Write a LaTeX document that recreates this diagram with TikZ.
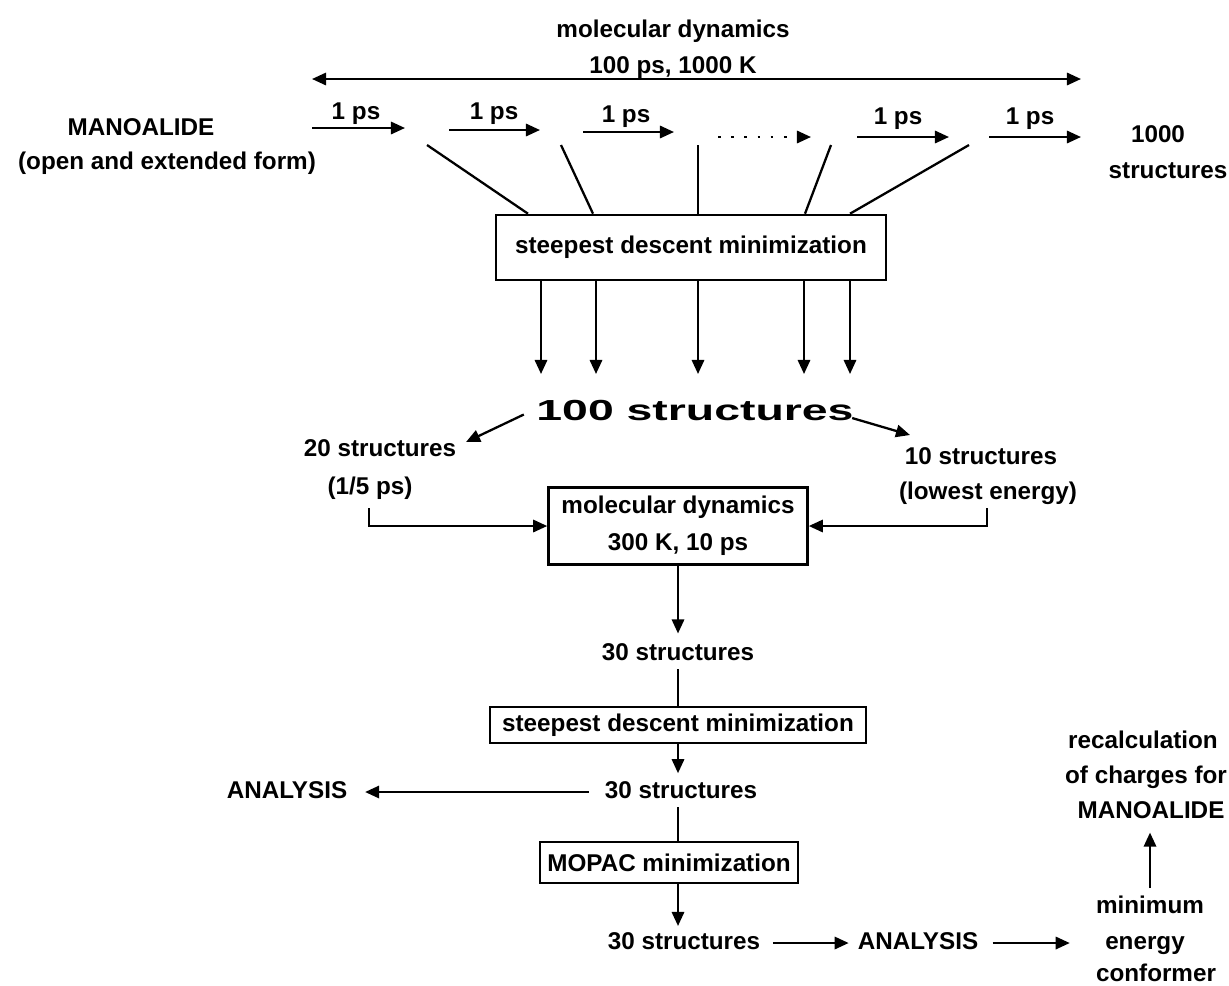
\documentclass[tikz,border=0pt]{standalone}
\usepackage{fontspec}
\setmainfont{Liberation Sans}
\newfontfamily\widefont{Liberation Sans}[FakeStretch=1.6]
\usetikzlibrary{arrows.meta,calc}
\begin{document}
\begin{tikzpicture}[x=0.02cm,y=-0.02cm,
 txt/.style={inner sep=0pt,font=\fontsize{13.8}{16}\selectfont\bfseries,align=center,text height=10pt,text depth=3pt},
 boxnode/.style={draw,line width=1.5pt,inner sep=0pt,font=\fontsize{13.8}{21}\selectfont\bfseries,align=center},
 ln/.style={line width=1.3pt},
 arr/.style={line width=1.3pt,-{Triangle[length=8pt,width=7pt]}},
 darr/.style={line width=1.3pt,{Triangle[length=8pt,width=7pt]}-{Triangle[length=8pt,width=7pt]}},
 dotarr/.style={line width=1.3pt,dash pattern=on 1.5pt off 6pt,-{Triangle[length=8pt,width=7pt]}}]
\useasboundingbox (0,0) rectangle (1229,985);
\fill[white] (0,0) rectangle (1229,985);

% title and long arrow
\node[txt] (md1) at (673,31) {molecular dynamics};
\node[txt] (md2) at (673,67) {100 ps, 1000 K};
\coordinate (dl) at (312,79);
\coordinate (dr) at (1081,79);
\draw[darr] (dl) -- (dr);

% start
\node[txt] (man) at (141,129) {MANOALIDE};
\node[txt] (form) at (167,163) {(open and extended form)};

% 1 ps arrows
\coordinate (a1s) at (312,128); \coordinate (a1e) at (405,128);
\coordinate (a2s) at (449,130); \coordinate (a2e) at (540,130);
\coordinate (a3s) at (583,132); \coordinate (a3e) at (674,132);
\coordinate (a4s) at (718,137); \coordinate (a4e) at (811,137);
\coordinate (a5s) at (857,137); \coordinate (a5e) at (949,137);
\coordinate (a6s) at (989,137); \coordinate (a6e) at (1081,137);
\draw[arr] (a1s) -- (a1e);
\draw[arr] (a2s) -- (a2e);
\draw[arr] (a3s) -- (a3e);
\draw[dotarr] (a4s) -- (a4e);
\draw[arr] (a5s) -- (a5e);
\draw[arr] (a6s) -- (a6e);
\node[txt] (l1) at (356,113) {1 ps};
\node[txt] (l2) at (494,113) {1 ps};
\node[txt] (l3) at (626,116) {1 ps};
\node[txt] (l5) at (898,118) {1 ps};
\node[txt] (l6) at (1030,118) {1 ps};
\node[txt] (k1000) at (1158,136) {1000};
\node[txt] (kstr) at (1168,172) {structures};

% first minimization box
\node[boxnode, minimum width=7.8cm, minimum height=1.3cm] (box1) at (691,247.5) {steepest descent minimization};
\coordinate (s1) at (427,145); \coordinate (t1) at (528,0);
\coordinate (s2) at (561,145); \coordinate (t2) at (593,0);
\coordinate (s3) at (698,145); \coordinate (t3) at (698,0);
\coordinate (s4) at (831,145); \coordinate (t4) at (805,0);
\coordinate (s5) at (969,145); \coordinate (t5) at (850,0);
\draw[ln] (s1) -- (t1 |- box1.north);
\draw[ln] (s2) -- (t2 |- box1.north);
\draw[ln] (s3) -- (t3 |- box1.north);
\draw[ln] (s4) -- (t4 |- box1.north);
\draw[ln] (s5) -- (t5 |- box1.north);

\coordinate (d1) at (541,374);
\coordinate (d2) at (596,374);
\coordinate (d3) at (698,374);
\coordinate (d4) at (804,374);
\coordinate (d5) at (850,374);
\foreach \d in {d1,d2,d3,d4,d5} \draw[arr] (box1.south -| \d) -- (\d);

% 100 structures
\node[inner sep=0pt,font=\widefont\bfseries\fontsize{16.5}{18}\selectfont] (hund) at (695,411) {100 structures};
\coordinate (hl) at (466,442);
\coordinate (hr) at (910,435);
\draw[arr] ([xshift=-7pt,yshift=-2pt]hund.west) -- (hl);
\draw[arr] ([xshift=-1pt,yshift=-4pt]hund.east) -- (hr);

\node[txt] (n20) at (380,450) {20 structures};
\node[txt] (n15) at (370,488) {(1/5 ps)};
\node[txt] (n10) at (981,458) {10 structures};
\node[txt] (nlow) at (988,493) {(lowest energy)};

% molecular dynamics box
\node[boxnode, minimum width=5.18cm, minimum height=1.54cm] (mdbox) at (678,526) {molecular dynamics\\300 K, 10 ps};
\coordinate (c20) at (369,508);
\coordinate (c10) at (987,508);
\draw[arr] (c20) |- (mdbox.west);
\draw[arr] (c10) |- (mdbox.east);

\node[txt] (s30a) at (678,654) {30 structures};
\draw[arr] (mdbox.south) -- ([yshift=5pt]s30a.north);

\node[boxnode, minimum width=7.52cm, minimum height=0.72cm] (sd2) at (678,725) {steepest descent minimization};
\draw[ln] ([yshift=-2pt]s30a.south) -- (sd2.north);

\node[txt] (s30b) at (681,792) {30 structures};
\draw[arr] (sd2.south) -- ([yshift=4pt]s30b.north -| sd2.south);
\node[txt] (an1) at (287,792) {ANALYSIS};
\draw[arr] ([xshift=-9pt]s30b.west) -- ([xshift=10pt]an1.east);

\node[boxnode, minimum width=5.16cm, minimum height=0.82cm] (mopac) at (669,862.5) {MOPAC minimization};
\draw[ln] ([yshift=-2pt]s30b.south -| sd2.south) -- (mopac.north -| sd2.south);

\node[txt] (s30c) at (684,943) {30 structures};
\draw[arr] (mopac.south -| sd2.south) -- ([yshift=3pt]s30c.north -| sd2.south);
\node[txt] (an2) at (918,943) {ANALYSIS};
\draw[arr] ([xshift=7pt]s30c.east) -- ([xshift=-5pt]an2.west);

\node[txt] (mini) at (1150,907) {minimum};
\node[txt] (ener) at (1145,943) {energy};
\node[txt] (conf) at (1156,975) {conformer};
\draw[arr] ([xshift=8pt]an2.east) -- ([xshift=-20pt]ener.west |- an2.east);

\node[txt] (rec) at (1143,742) {recalculation};
\node[txt] (ofch) at (1146,777) {of charges for};
\node[txt] (man2) at (1151,812) {MANOALIDE};
\draw[arr] ([yshift=4pt]mini.north) -- ([yshift=-5pt]mini.north |- man2.south);
\end{tikzpicture}
\end{document}
